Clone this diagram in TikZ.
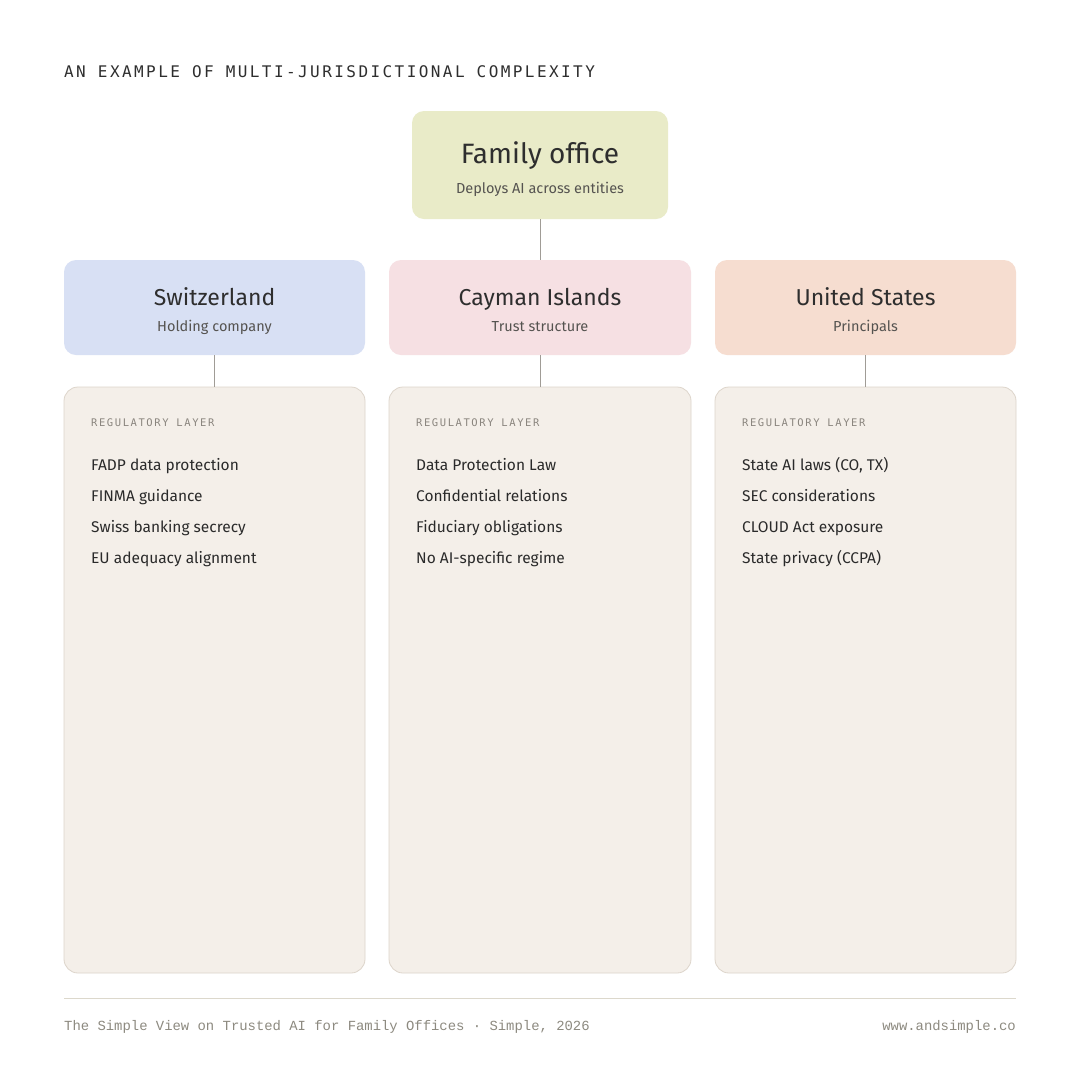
\documentclass[tikz,border=0pt]{standalone}
\usepackage{fontspec}
\setmainfont{Fira Sans}
\newfontfamily\headmono[LetterSpace=15.2]{DejaVu Sans Mono}
\newfontfamily\smallmono[LetterSpace=15]{DejaVu Sans Mono}
\newfontfamily\footmono{Liberation Mono}
\definecolor{fambg}{HTML}{E9EBC8}
\definecolor{swbg}{HTML}{D8E0F4}
\definecolor{cybg}{HTML}{F6E0E3}
\definecolor{usbg}{HTML}{F6DDD0}
\definecolor{regbg}{HTML}{F4EFE9}
\definecolor{regline}{HTML}{DDD5CB}
\definecolor{conn}{HTML}{A09C96}
\definecolor{titlec}{HTML}{2E2E2E}
\definecolor{subc}{HTML}{555350}
\definecolor{itemc}{HTML}{2A2A2A}
\definecolor{labc}{HTML}{8A857E}
\definecolor{footc}{HTML}{8D8A80}
\definecolor{rulec}{HTML}{DCD8CC}
\tikzset{
  topbox/.style={rounded corners=12pt, draw=none},
  regbox/.style={rounded corners=14pt, fill=regbg, draw=regline, line width=0.8pt},
  connector/.style={draw=conn, line width=0.9pt},
  bigtitle/.style={anchor=base, inner sep=0pt, text=titlec, font=\fontsize{28}{30}\selectfont},
  midtitle/.style={anchor=base, inner sep=0pt, text=titlec, font=\fontsize{23}{26}\selectfont},
  subtitle/.style={anchor=base, inner sep=0pt, text=subc, font=\fontsize{14.5}{17}\selectfont},
  reglabel/.style={anchor=base west, inner sep=0pt, text=labc, font=\smallmono\fontsize{10.5}{12}\selectfont},
  item/.style={anchor=base west, inner sep=0pt, text=itemc, font=\fontsize{15.5}{18}\selectfont},
  foot/.style={inner sep=0pt, text=footc, font=\footmono\fontsize{13.9}{16}\selectfont},
}
\begin{document}
\begin{tikzpicture}[x=1pt,y=-1pt]
\useasboundingbox[fill=white] (0,0) rectangle (1080,1080);
% header
\node[anchor=base west, inner sep=0pt, text=titlec, font=\headmono\fontsize{16}{18}\selectfont] (header) at (64,77) {AN EXAMPLE OF MULTI-JURISDICTIONAL COMPLEXITY};
% family office
\path[topbox, fill=fambg] (412,111) rectangle (668,219);
\coordinate (famtop) at (540,111);
\coordinate (fambot) at (540,219);
\node[bigtitle] (famt) at (540,163) {Family office};
\node[subtitle] (fams) at (540,193.5) {Deploys AI across entities};
% jurisdiction boxes
\path[topbox, fill=swbg] (64,260) rectangle (365,355);
\path[topbox, fill=cybg] (389,260) rectangle (691,355);
\path[topbox, fill=usbg] (715,260) rectangle (1016,355);
\coordinate (swtop) at (214.5,260); \coordinate (swbot) at (214.5,355);
\coordinate (cytop) at (540,260); \coordinate (cybot) at (540,355);
\coordinate (ustop) at (865.5,260); \coordinate (usbot) at (865.5,355);
\node[midtitle] (swt) at (214.5,305.5) {Switzerland};
\node[subtitle] (sws) at (214.5,331) {Holding company};
\node[midtitle] (cyt) at (540,305.5) {Cayman Islands};
\node[subtitle] (cys) at (540,331) {Trust structure};
\node[midtitle] (ust) at (865.5,305.5) {United States};
\node[subtitle] (uss) at (865.5,331) {Principals};
% regulatory boxes
\path[regbox] (64,387) rectangle (365,973);
\path[regbox] (389,387) rectangle (691,973);
\path[regbox] (715,387) rectangle (1016,973);
\coordinate (swreg) at (214.5,387);
\coordinate (cyreg) at (540,387);
\coordinate (usreg) at (865.5,387);
% connectors
\draw[connector] (fambot) -- (cytop);
\draw[connector] (swbot) -- (swreg);
\draw[connector] (cybot) -- (cyreg);
\draw[connector] (usbot) -- (usreg);
% labels
\node[reglabel] (swl) at (91,426) {REGULATORY LAYER};
\node[reglabel] (cyl) at (416,426) {REGULATORY LAYER};
\node[reglabel] (usl) at (742,426) {REGULATORY LAYER};
% items
\node[item] (sw1) at (91,470.5) {FADP data protection};
\node[item] (sw2) at (91,501.5) {FINMA guidance};
\node[item] (sw3) at (91,532.5) {Swiss banking secrecy};
\node[item] (sw4) at (91,563.5) {EU adequacy alignment};
\node[item] (cy1) at (416,470.5) {Data Protection Law};
\node[item] (cy2) at (416,501.5) {Confidential relations};
\node[item] (cy3) at (416,532.5) {Fiduciary obligations};
\node[item] (cy4) at (416,563.5) {No AI-specific regime};
\node[item] (us1) at (742,470.5) {State AI laws (CO, TX)};
\node[item] (us2) at (742,501.5) {SEC considerations};
\node[item] (us3) at (742,532.5) {CLOUD Act exposure};
\node[item] (us4) at (742,563.5) {State privacy (CCPA)};
% footer
\coordinate (rulel) at (64,998);
\coordinate (ruler) at (1016,998);
\draw[draw=rulec, line width=1pt] (rulel) -- (ruler);
\node[foot, anchor=base west] (footl) at (64,1030) {The Simple View on Trusted AI for Family Offices · Simple, 2026};
\node[foot, anchor=base east] (footr) at (1016,1030) {www.andsimple.co};
\end{tikzpicture}
\end{document}
